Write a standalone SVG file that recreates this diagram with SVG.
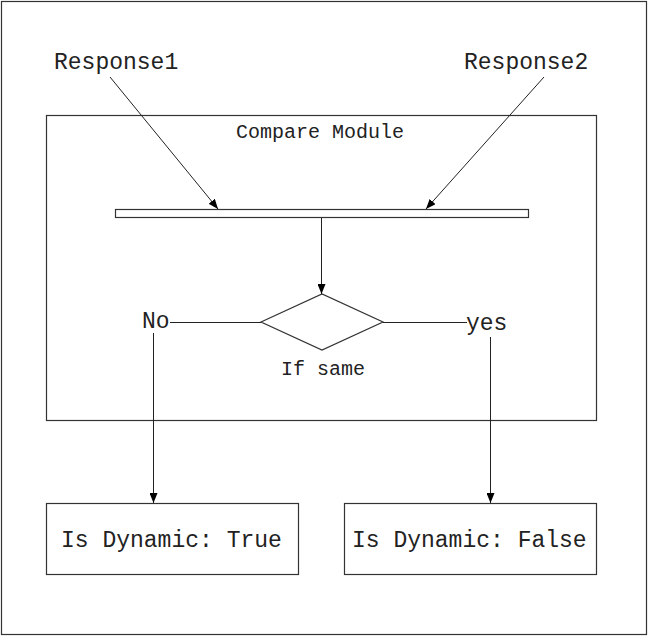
<svg xmlns="http://www.w3.org/2000/svg" width="648" height="637" viewBox="0 0 648 637">
<style>
.box{fill:#fff;stroke:#333;stroke-width:1.2}
.ln{fill:none;stroke:#222;stroke-width:1}
.t{font-family:"Courier New","Nimbus Mono PS","FreeMono","Liberation Mono",monospace;fill:#222}
.big{font-size:23px}
.mid{font-size:20px}
</style>
<defs>
<marker id="ah" viewBox="0 0 10 8" refX="10" refY="4" markerWidth="10" markerHeight="8" markerUnits="userSpaceOnUse" orient="auto">
<path d="M0,0 L10,4 L0,8 Z" fill="#000"/>
</marker>
</defs>
<rect x="0" y="0" width="648" height="637" fill="#fff"/>
<rect id="frame" x="1.5" y="1.5" width="645" height="633" class="box"/>
<g id="compare-module">
<rect x="46.5" y="115.5" width="550" height="305" class="box"/>
<text x="236" y="138" class="t mid">Compare Module</text>
</g>
<g id="merge-bar">
<rect x="115.5" y="209.5" width="413" height="8" class="box"/>
</g>
<g id="decision">
<polygon points="261,322 322,294 383,322 322,350" class="box"/>
<text x="281" y="375" class="t mid">If same</text>
</g>
<g id="response1"><text x="54" y="69" class="t big">Response1</text></g>
<g id="response2"><text x="464" y="69" class="t big">Response2</text></g>
<g id="label-no"><text x="142" y="328" class="t big">No</text></g>
<g id="label-yes"><text x="466" y="330" class="t big">yes</text></g>
<g id="dynamic-true">
<rect x="46.5" y="503.5" width="252" height="71" class="box"/>
<text x="61" y="547" class="t big">Is Dynamic: True</text>
</g>
<g id="dynamic-false">
<rect x="344.5" y="503.5" width="252" height="71" class="box"/>
<text x="352" y="547" class="t big">Is Dynamic: False</text>
</g>
<g id="connectors">
<line x1="110" y1="77" x2="218" y2="209" class="ln" marker-end="url(#ah)"/>
<line x1="544" y1="77" x2="426" y2="209" class="ln" marker-end="url(#ah)"/>
<line x1="321.5" y1="218" x2="321.5" y2="294" class="ln" marker-end="url(#ah)"/>
<line x1="170" y1="322.5" x2="261" y2="322.5" class="ln"/>
<line x1="383" y1="322.5" x2="467" y2="322.5" class="ln"/>
<line x1="153.5" y1="333" x2="153.5" y2="503" class="ln" marker-end="url(#ah)"/>
<line x1="490.5" y1="337" x2="490.5" y2="503" class="ln" marker-end="url(#ah)"/>
</g>
</svg>
